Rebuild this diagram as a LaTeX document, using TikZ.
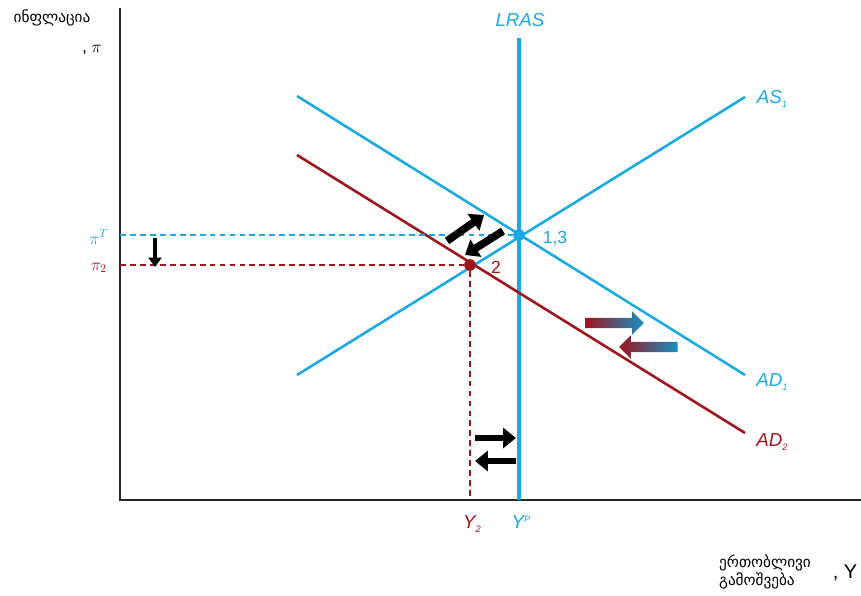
\documentclass[tikz,border=0pt]{standalone}
\usepackage{fontspec}
\setmainfont{Liberation Sans}
\newfontfamily\geofont{DejaVu Sans}
\usetikzlibrary{arrows.meta,shapes.arrows}
\definecolor{lblue}{RGB}{25,170,230}
\definecolor{dred}{RGB}{160,20,28}
\newcommand{\sub}[1]{\raisebox{-4pt}{\fontsize{8}{9}\selectfont #1}}
\begin{document}
\begin{tikzpicture}[x=0.03cm,y=-0.03cm,
  curve/.style={line width=2.2pt},
  guide/.style={line width=1.3pt,dash pattern=on 5pt off 3.5pt},
  fat/.style={line width=6.5pt,-{Triangle[length=11pt,width=17pt]}},
  dot/.style={circle,fill,inner sep=0pt,minimum size=10pt},
  lbl/.style={font=\fontsize{16}{18}\selectfont\itshape},
  num/.style={font=\fontsize{15}{17}\selectfont},
  geo/.style={font=\geofont\fontsize{13}{15}\selectfont,align=left},
  grad/.style={single arrow,draw=none,inner sep=0.15cm,single arrow head extend=0.19cm,minimum height=1.75cm}]
\useasboundingbox (0,0) rectangle (861,596);
% axes
\coordinate (o) at (120,500);
\coordinate (ytop) at (120,8);
\coordinate (xend) at (861,500);
\draw[line width=1.6pt,black!85] (ytop) -- (o) -- (xend);
% curves
\coordinate (lrasT) at (519,38);
\coordinate (lrasB) at (519,500);
\coordinate (as0) at (297,375);
\coordinate (as1) at (745,97);
\coordinate (ad0) at (297,96);
\coordinate (ad1) at (745,375);
\coordinate (bd0) at (297,155);
\coordinate (bd1) at (745,433);
\draw[curve,lblue,line width=2.8pt] (lrasT) -- (lrasB);
\draw[curve,lblue] (as0) -- (as1);
\draw[curve,lblue] (ad0) -- (ad1);
\draw[curve,dred] (bd0) -- (bd1);
% equilibria
\node[dot,lblue] (e13) at (519,235) {};
\node[dot,dred] (e2) at (470,265) {};
\coordinate (piT) at (120,235);
\coordinate (pi2) at (120,265);
\coordinate (y2) at (470,500);
\draw[guide,lblue] (piT) -- (e13);
\draw[guide,dred] (pi2) -- (e2) -- (y2);
\node[num,lblue] (l13) at (555,238) {1,3};
\node[num,dred] (l2) at (496,267) {2};
% labels
\node[lbl,lblue] (llras) at (520,20) {LRAS};
\node[lbl,lblue] (las) at (772,99) {AS\sub{1}};
\node[lbl,lblue] (lad1) at (772,382) {AD\sub{1}};
\node[lbl,dred] (lad2) at (772,442) {AD\sub{2}};
\node[lbl,dred] (ly2) at (472,524) {Y\sub{2}};
\node[lbl,lblue] (lyp) at (521,522) {Y\raisebox{5pt}{\fontsize{8}{9}\selectfont P}};
\node[lblue,font=\fontsize{14}{16}\selectfont] (lpiT) at (99,237) {$\pi^{T}$};
\node[dred,font=\fontsize{14}{16}\selectfont] (lpi2) at (99,268) {$\pi_2$};
% axis titles
\node[geo] (ttl) at (52,18) {ინფლაცია};
\node[font=\fontsize{14}{16}\selectfont] (tpi) at (92,50) {, $\pi$};
\node[geo] (xtl) at (765,572) {ერთობლივი\\გამოშვება};
\node[font=\fontsize{17}{19}\selectfont] (tY) at (845,573) {, Y};
% adjustment arrows
\coordinate (dn0) at (155,238);
\coordinate (dn1) at (155,267);
\draw[line width=2.6pt,-{Triangle[length=8pt,width=11pt]}] (dn0) -- (dn1);
\coordinate (u0) at (447,241);
\coordinate (u1) at (484,215);
\coordinate (w0) at (503,231);
\coordinate (w1) at (465,255);
\draw[fat] (u0) -- (u1);
\draw[fat] (w0) -- (w1);
\coordinate (r0) at (475,438);
\coordinate (r1) at (516,438);
\coordinate (s0) at (516,461);
\coordinate (s1) at (475,461);
\draw[fat,line width=5.5pt] (r0) -- (r1);
\draw[fat,line width=5.5pt] (s0) -- (s1);
\node[grad,left color=dred,right color=lblue!85!black] (gr) at (612,323) {};
\node[grad,shape border rotate=180,left color=dred,right color=lblue!85!black] (gl) at (651,347) {};
\end{tikzpicture}
\end{document}
